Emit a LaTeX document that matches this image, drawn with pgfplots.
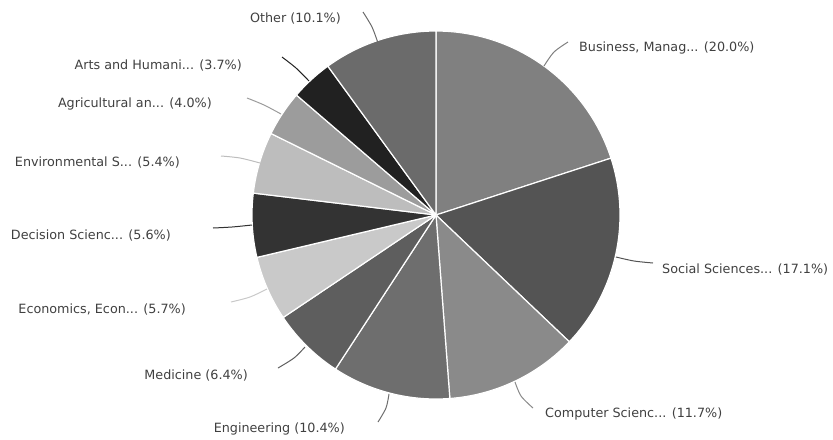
\documentclass[border=0pt]{standalone}
\usepackage{fontspec}
\setmainfont{DejaVu Sans}
\usepackage{pgfplots}
\pgfplotsset{compat=1.18}
\definecolor{cBus}{gray}{0.50}
\definecolor{cSoc}{gray}{0.33}
\definecolor{cCom}{gray}{0.54}
\definecolor{cEng}{gray}{0.43}
\definecolor{cMed}{gray}{0.37}
\definecolor{cEco}{gray}{0.79}
\definecolor{cDec}{gray}{0.20}
\definecolor{cEnv}{gray}{0.74}
\definecolor{cAgr}{gray}{0.61}
\definecolor{cArt}{gray}{0.13}
\definecolor{cOth}{gray}{0.42}
\definecolor{txt}{gray}{0.25}
\tikzset{lbl/.style={inner sep=0pt, text=txt, font=\fontsize{12.8}{15}\selectfont}}
\newcommand{\slice}[3]{%
  \addplot[fill=#3, draw=white, line width=1.2bp, line join=round, domain=#1:#2, samples=60, variable=\t]
    ({436+184*cos(90-3.6*\t)},{215-184*sin(90-3.6*\t)}) -- (436,215) -- cycle;}
\begin{document}
\begin{tikzpicture}
\begin{axis}[x=1bp, y=1bp, xmin=0, xmax=833, ymin=0, ymax=440, y dir=reverse,
  hide axis, clip=false]
% slices: cumulative percent, clockwise from 12 o'clock
\slice{0}{20.0}{cBus}
\slice{20.0}{37.1}{cSoc}
\slice{37.1}{48.8}{cCom}
\slice{48.8}{59.2}{cEng}
\slice{59.2}{65.6}{cMed}
\slice{65.6}{71.3}{cEco}
\slice{71.3}{76.9}{cDec}
\slice{76.9}{82.3}{cEnv}
\slice{82.3}{86.3}{cAgr}
\slice{86.3}{90.0}{cArt}
\slice{90.0}{100.0}{cOth}
% leader lines
\addplot[cBus, line width=1bp, smooth] coordinates {(544,66) (554,52) (568,42)};
\addplot[cSoc, line width=1bp, smooth] coordinates {(616,257) (634,261) (653,263)};
\addplot[cCom, line width=1bp, smooth] coordinates {(515,382) (521,396) (533,408)};
\addplot[cEng, line width=1bp, smooth] coordinates {(389,394) (386,408) (378,422)};
\addplot[cMed, line width=1bp, smooth] coordinates {(305,347) (294,358) (278,368)};
\addplot[cEco, line width=1bp, smooth] coordinates {(267,289) (250,297) (231,302)};
\addplot[cDec, line width=1bp, smooth] coordinates {(252,225) (232,227) (213,228)};
\addplot[cEnv, line width=1bp, smooth] coordinates {(260,163) (240,158) (221,156)};
\addplot[cAgr, line width=1bp, smooth] coordinates {(281,114) (264,105) (247,98)};
\addplot[cArt, line width=1bp, smooth] coordinates {(309,81) (296,68) (282,57)};
\addplot[cOth, line width=1bp, smooth] coordinates {(378,43) (372,27) (363,12)};
% labels
\node[lbl, anchor=west] at (579,48) {Business, Manag... (20.0\%)};
\node[lbl, anchor=west] at (662,269) {Social Sciences... (17.1\%)};
\node[lbl, anchor=west] at (545,414) {Computer Scienc... (11.7\%)};
\node[lbl, anchor=east] at (345,429) {Engineering (10.4\%)};
\node[lbl, anchor=east] at (248,375) {Medicine (6.4\%)};
\node[lbl, anchor=east] at (186,309) {Economics, Econ... (5.7\%)};
\node[lbl, anchor=east] at (171,235) {Decision Scienc... (5.6\%)};
\node[lbl, anchor=east] at (180,162) {Environmental S... (5.4\%)};
\node[lbl, anchor=east] at (212,104) {Agricultural an... (4.0\%)};
\node[lbl, anchor=east] at (242,65) {Arts and Humani... (3.7\%)};
\node[lbl, anchor=east] at (341,18) {Other (10.1\%)};
\end{axis}
\pgfresetboundingbox
\path[use as bounding box] (0,0) rectangle (833bp,440bp);
\end{tikzpicture}
\end{document}
